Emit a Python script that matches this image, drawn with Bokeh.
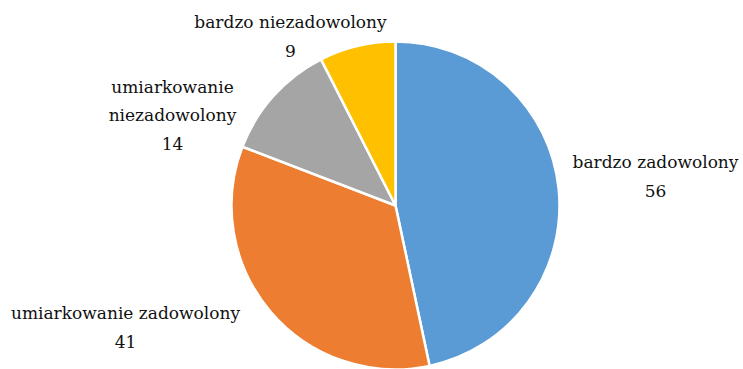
import math
from bokeh.plotting import figure
from bokeh.models import ColumnDataSource, Range1d
from bokeh.core.properties import value
from bokeh.embed import file_html
from bokeh.resources import INLINE

# data
categories = ["bardzo zadowolony", "umiarkowanie zadowolony", "umiarkowanie\nniezadowolony", "bardzo niezadowolony"]
counts = [56, 41, 14, 9]
colors = ["#5B9BD5", "#ED7D31", "#A5A5A5", "#FFC000"]

# layout (pixel coordinates, y measured from top)
W, H = 743, 369
cx, cy, r = 395, 205, 164
label_pos = [(655, 176), (125, 327), (172, 115), (290, 36)]

total = sum(counts)
starts, ends = [], []
a = math.pi / 2
for c in counts:
    starts.append(a)
    a -= 2 * math.pi * c / total
    ends.append(a)

p = figure(width=W, height=H, x_range=Range1d(0, W), y_range=Range1d(0, H),
           output_backend="svg", toolbar_location=None, min_border=0)
p.axis.visible = False
p.grid.visible = False
p.outline_line_color = None
p.background_fill_color = "white"

src = ColumnDataSource(dict(x=[cx] * 4, y=[H - cy] * 4, start=starts, end=ends, color=colors))
p.wedge(x="x", y="y", radius=r, start_angle="start", end_angle="end", direction="clock",
        fill_color="color", line_color="white", line_width=2.5, source=src)

labels = [f"{c}\n{v}" for c, v in zip(categories, counts)]
lsrc = ColumnDataSource(dict(x=[lp[0] for lp in label_pos], y=[H - lp[1] for lp in label_pos], t=labels))
p.text(x="x", y="y", text="t", source=lsrc, text_align="center", text_baseline="middle",
       text_font=value("DejaVu Serif"), text_font_size="17px",
       text_color="#111111", text_line_height=1.42)

open("out.html", "w").write(file_html(p, INLINE))
